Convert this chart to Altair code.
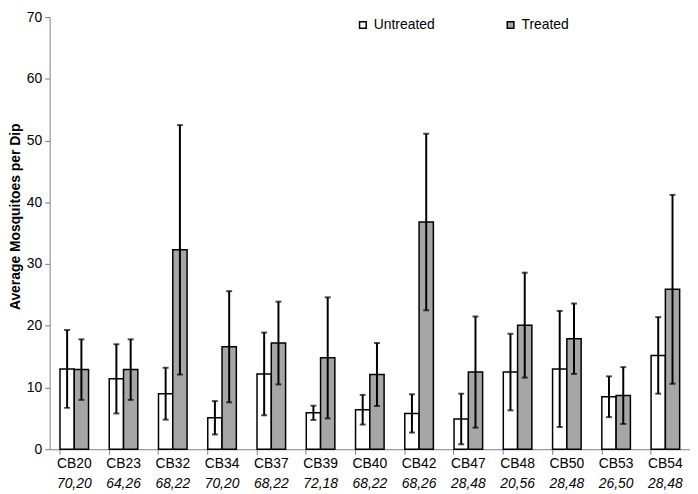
import altair as alt
import pandas as pd

sites = ["CB20", "CB23", "CB32", "CB34", "CB37", "CB39", "CB40",
         "CB42", "CB47", "CB48", "CB50", "CB53", "CB54"]
pairs = ["70,20", "64,26", "68,22", "70,20", "68,22", "72,18", "68,22",
         "68,26", "28,48", "20,56", "28,48", "26,50", "28,48"]
untreated_mean = [13.0, 11.4, 9.0, 5.1, 12.2, 5.9, 6.4, 5.8, 4.9, 12.5, 13.0, 8.5, 15.2]
untreated_err = [6.3, 5.6, 4.2, 2.7, 6.7, 1.15, 2.4, 3.1, 4.1, 6.2, 9.4, 3.3, 6.2]
treated_mean = [12.9, 12.9, 32.3, 16.6, 17.2, 14.8, 12.1, 36.8, 12.5, 20.1, 17.9, 8.7, 25.9]
treated_err = [4.9, 4.9, 20.2, 9.0, 6.7, 9.8, 5.1, 14.3, 9.0, 8.5, 5.7, 4.6, 15.3]

groups = ["Untreated", "Treated"]
rows = []
for i, s in enumerate(sites):
    for g, m, e in (("Untreated", untreated_mean[i], untreated_err[i]),
                    ("Treated", treated_mean[i], treated_err[i])):
        rows.append({"site": s, "group": g, "mean": m, "lo": m - e, "hi": m + e})
df = pd.DataFrame(rows)
lab = pd.DataFrame({"site": sites, "pair": pairs})

FONT = "Liberation Sans"

x = alt.X("site:N", sort=sites,
          scale=alt.Scale(paddingInner=0.42, paddingOuter=0.21),
          axis=alt.Axis(labels=False, title=None, bandPosition=0, tickSize=5,
                        domainColor="#808080", tickColor="#808080"))
xo = alt.XOffset("group:N", sort=groups, scale=alt.Scale(paddingInner=0, paddingOuter=0))
yscale = alt.Scale(domain=[0, 70], nice=False)

base = alt.Chart(df)

bars = base.mark_bar(stroke="black", strokeWidth=1.5).encode(
    x=x, xOffset=xo,
    y=alt.Y("mean:Q", scale=yscale,
            axis=alt.Axis(values=list(range(0, 71, 10)), grid=False, tickSize=5,
                          domainColor="#808080", tickColor="#808080",
                          labelFont=FONT, labelFontSize=14, labelColor="black",
                          labelPadding=3,
                          title="Average Mosquitoes per Dip", titleFont=FONT,
                          titleFontSize=14, titleFontWeight="bold", titleColor="black",
                          titlePadding=4, titleY=201)),
    color=alt.Color("group:N", sort=groups,
                    scale=alt.Scale(domain=groups, range=["white", "#a6a6a6"]),
                    legend=alt.Legend(orient="none", legendX=309, legendY=1,
                                      direction="horizontal", title=None,
                                      symbolType="square", symbolSize=45,
                                      symbolStrokeColor="black", symbolStrokeWidth=1.5,
                                      labelFont=FONT, labelFontSize=14, labelColor="black",
                                      columnPadding=69, symbolOpacity=1)),
)

rules = base.mark_rule(color="black", strokeWidth=2).encode(
    x=x, xOffset=xo, y=alt.Y("lo:Q", scale=yscale), y2="hi:Q")
tick_lo = base.mark_tick(color="black", thickness=2, size=6, orient="horizontal").encode(
    x=x, xOffset=xo, y=alt.Y("lo:Q", scale=yscale))
tick_hi = base.mark_tick(color="black", thickness=2, size=6, orient="horizontal").encode(
    x=x, xOffset=xo, y=alt.Y("hi:Q", scale=yscale))

names = alt.Chart(lab).mark_text(font=FONT, fontSize=14, baseline="middle", color="black").encode(
    x=x, y=alt.value(451), text="site:N")
nums = alt.Chart(lab).mark_text(font=FONT, fontSize=14, fontStyle="italic",
                                baseline="middle", color="black").encode(
    x=x, y=alt.value(471), text="pair:N")

chart = alt.layer(bars, rules, tick_lo, tick_hi, names, nums).properties(
    width=646, height=436,
    autosize=alt.AutoSizeParams(type="none"),
    padding={"left": 42, "top": 7, "right": 0, "bottom": 40},
    background="white",
).configure_view(stroke=None)

chart.save("out.html", embed_options={"renderer": "svg", "actions": False})
